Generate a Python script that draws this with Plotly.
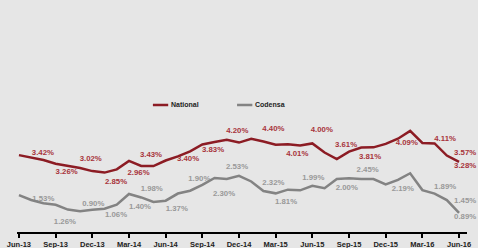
import plotly.graph_objects as go

months = ["Jun-13","Jul-13","Aug-13","Sep-13","Oct-13","Nov-13","Dec-13","Jan-14","Feb-14",
          "Mar-14","Apr-14","May-14","Jun-14","Jul-14","Aug-14","Sep-14","Oct-14","Nov-14",
          "Dec-14","Jan-15","Feb-15","Mar-15","Apr-15","May-15","Jun-15","Jul-15","Aug-15",
          "Sep-15","Oct-15","Nov-15","Dec-15","Jan-16","Feb-16","Mar-16","Apr-16","May-16","Jun-16"]

national = [3.56,3.44,3.33,3.16,3.06,2.96,2.82,2.75,2.90,3.29,3.06,3.05,3.31,3.50,3.73,4.05,
            4.17,4.27,4.14,4.32,4.19,4.04,4.06,4.00,4.10,3.68,3.38,3.72,3.91,3.92,4.08,4.32,
            4.68,4.12,4.10,3.54,3.25]
codensa = [1.71,1.48,1.33,1.26,1.04,0.96,1.03,1.08,1.27,1.76,1.60,1.39,1.45,1.78,1.91,2.18,
           2.50,2.45,2.60,2.34,1.90,1.79,1.96,1.93,2.14,2.03,2.45,2.49,2.45,2.45,2.20,2.41,
           2.72,1.94,1.78,1.48,0.89]

tick_idx = list(range(0, 37, 3))
tick_labels = [months[i] for i in tick_idx]

# data labels: text, month position, value position
nat_label_text = ["3.42%","3.26%","3.02%","2.85%","2.96%","3.43%","3.40%","3.83%","4.20%",
                  "4.40%","4.01%","4.00%","3.61%","3.81%","4.09%","4.11%","3.57%","3.28%"]
nat_label_m = [1.96,3.90,5.87,7.94,9.78,10.80,13.83,15.88,17.86,20.81,22.77,24.77,26.76,
               28.72,31.73,34.86,36.5,36.5]
nat_label_v = [3.67,2.76,3.38,2.30,2.71,3.54,3.37,3.80,4.69,4.75,3.61,4.72,4.03,3.49,4.11,
               4.29,3.67,3.06]

cod_label_text = ["1.53%","1.26%","0.90%","1.06%","1.40%","1.98%","1.37%","1.90%","2.30%",
                  "2.53%","2.32%","1.81%","1.99%","2.00%","2.45%","2.19%","1.89%","1.45%","0.89%"]
cod_label_m = [1.99,3.76,6.08,7.94,9.90,10.86,12.91,14.75,16.78,17.84,20.81,21.85,24.08,
               26.82,28.52,31.40,34.86,36.5,36.5]
cod_label_v = [1.51,0.48,1.30,0.79,1.17,1.99,1.05,2.44,1.76,3.00,2.28,1.40,2.49,2.02,2.87,
               1.99,2.07,1.45,0.71]

RED = "#8c1c24"
RED_TXT = "#a8343c"
GRAY = "#838383"
GRAY_TXT = "#999999"
BG = "#e6e6e6"
FONT = "Liberation Sans"
XR = [-0.16, 36.65]

x = list(range(len(months)))
fig = go.Figure()
# labels first so that the lines are drawn over them (as in the original)
fig.add_trace(go.Scatter(x=nat_label_m, y=nat_label_v, mode="text",
                         text=["<b>%s</b>" % t for t in nat_label_text],
                         textfont=dict(family=FONT, size=7.8, color=RED_TXT),
                         cliponaxis=False, showlegend=False, hoverinfo="skip"))
fig.add_trace(go.Scatter(x=cod_label_m, y=cod_label_v, mode="text",
                         text=["<b>%s</b>" % t for t in cod_label_text],
                         textfont=dict(family=FONT, size=7.8, color=GRAY_TXT),
                         cliponaxis=False, showlegend=False, hoverinfo="skip"))
fig.add_trace(go.Scatter(x=x, y=national, mode="lines", name="National",
                         line=dict(color=RED, width=2.5), showlegend=False))
fig.add_trace(go.Scatter(x=x, y=codensa, mode="lines", name="Codensa",
                         line=dict(color=GRAY, width=2.5), showlegend=False))

# legend (manual, short keys like the original)
ann = []
shapes = []
legend_items = [("National", RED, 0.302), ("Codensa", GRAY, 0.489)]
for name, col, lx in legend_items:
    shapes.append(dict(type="line", xref="paper", yref="paper", x0=lx, x1=lx + 0.034,
                       y0=0.588, y1=0.588, line=dict(color=col, width=2.5)))
    ann.append(dict(x=lx + 0.036, y=0.588, xref="paper", yref="paper", xanchor="left",
                    yanchor="middle", text="<b>%s</b>" % name, showarrow=False,
                    font=dict(family=FONT, size=7, color="#222222")))

fig.update_layout(
    width=478, height=248,
    margin=dict(l=17, r=11, t=16, b=16),
    paper_bgcolor=BG, plot_bgcolor=BG,
    showlegend=False,
    annotations=ann, shapes=shapes,
    xaxis=dict(range=XR, tickmode="array", tickvals=tick_idx,
               ticktext=["<b>%s</b>" % s for s in tick_labels],
               showgrid=False, zeroline=False, showline=True, linecolor="#000000",
               linewidth=1.5, ticks="outside", ticklen=4, tickwidth=1.5, tickcolor="#000000",
               tickfont=dict(family=FONT, size=7.5, color="#222222"), fixedrange=True,
               automargin=False),
    yaxis=dict(range=[0, 10], visible=False, showgrid=False, zeroline=False, fixedrange=True),
)

fig.write_html("out.html", config={"displayModeBar": False},
               post_script="document.body.style.margin='0px';")
